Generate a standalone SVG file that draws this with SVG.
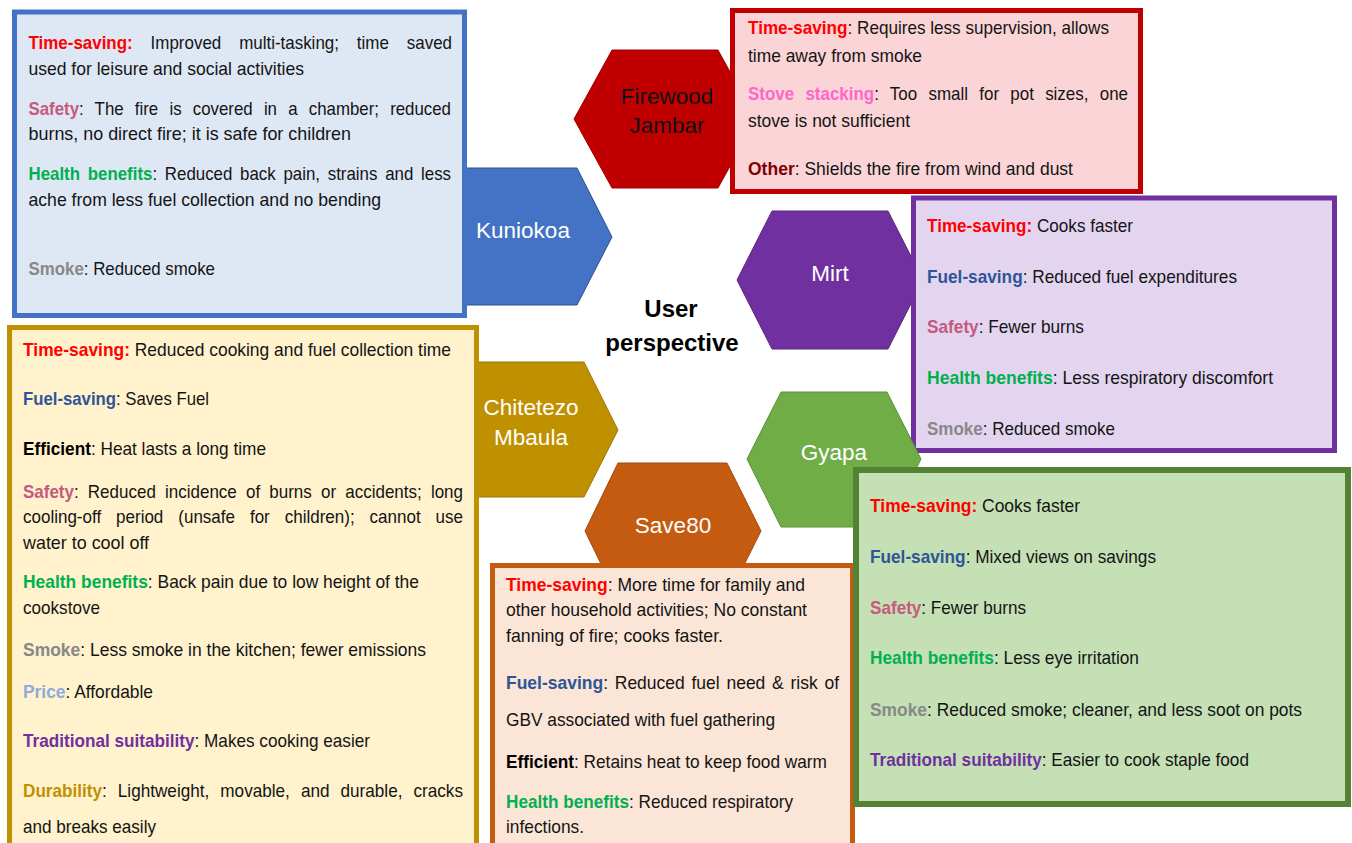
<svg xmlns="http://www.w3.org/2000/svg" width="1352" height="843" viewBox="0 0 1352 843">
  <style>
    .t { font-family: "Liberation Sans", Arial, sans-serif; font-size: 18.6px; fill: #141414; }
    .b { font-weight: bold; }
    .red { fill: #FF0000; }
    .rose { fill: #C55A7E; }
    .grn { fill: #00B050; }
    .gry { fill: #888888; }
    .blu { fill: #2F5597; }
    .blk { fill: #000000; }
    .lbl { fill: #8FAADC; }
    .pur { fill: #7030A0; }
    .gld { fill: #BF9000; }
    .pnk { fill: #FF66CC; }
    .mar { fill: #800000; }
    .hexlabel { font-family: "Liberation Sans", Arial, sans-serif; font-size: 22.5px; fill: #FFFFFF; text-anchor: middle; }
    .title { font-family: "Liberation Sans", Arial, sans-serif; font-size: 24px; font-weight: bold; fill: #000000; text-anchor: middle; }
    .box { stroke-width: 5; }
    .hex { stroke-width: 1; }
  </style>

  <rect width="1352" height="843" fill="#FFFFFF"/>

  <!-- centre title -->
  <g id="title">
    <text class="title" x="671" y="317">User</text>
    <text class="title" x="672" y="351">perspective</text>
  </g>

  <!-- Kuniokoa -->
  <g id="kuniokoa">
    <polygon class="hex" points="440,168 577,168 612,237 577,305 440,305" fill="#4472C4" stroke="#2F528F"/>
    <text class="hexlabel" x="523" y="238">Kuniokoa</text>
    <rect class="box" x="14.5" y="12" width="450" height="303.5" fill="#DEE7F4" stroke="#4472C4"/>
    <text class="t" x="28.5" y="49" textLength="423.5" lengthAdjust="spacingAndGlyphs" style="word-spacing:14.5px"><tspan class="b red">Time-saving:</tspan> Improved multi-tasking; time saved</text>
    <text class="t" x="28.5" y="75" textLength="275.5" lengthAdjust="spacingAndGlyphs">used for leisure and social activities</text>
    <text class="t" x="28.5" y="115" textLength="422.5" lengthAdjust="spacingAndGlyphs" style="word-spacing:7.2px"><tspan class="b rose">Safety</tspan>: The fire is covered in a chamber; reduced</text>
    <text class="t" x="28.5" y="140" textLength="322.5" lengthAdjust="spacingAndGlyphs">burns, no direct fire; it is safe for children</text>
    <text class="t" x="28.5" y="180" textLength="422.5" lengthAdjust="spacingAndGlyphs" style="word-spacing:3.4px"><tspan class="b grn">Health benefits</tspan>: Reduced back pain, strains and less</text>
    <text class="t" x="28.5" y="206" textLength="352.5" lengthAdjust="spacingAndGlyphs">ache from less fuel collection and no bending</text>
    <text class="t" x="28.5" y="275" textLength="186.5" lengthAdjust="spacingAndGlyphs"><tspan class="b gry">Smoke</tspan>: Reduced smoke</text>
  </g>

  <!-- Firewood Jambar -->
  <g id="firewood-jambar">
    <polygon class="hex" points="574,119 612,50 718,50 756,119 718,188 612,188" fill="#C00000" stroke="#A00000"/>
    <text class="hexlabel" x="667" y="104" style="fill:#111111">Firewood</text>
    <text class="hexlabel" x="667" y="133" style="fill:#111111">Jambar</text>
    <rect class="box" x="732.5" y="10.5" width="408" height="181" fill="#FAD4D7" stroke="#C00000"/>
    <text class="t" x="748" y="33.5" textLength="361" lengthAdjust="spacingAndGlyphs"><tspan class="b red">Time-saving</tspan>: Requires less supervision, allows</text>
    <text class="t" x="748" y="62" textLength="174" lengthAdjust="spacingAndGlyphs">time away from smoke</text>
    <text class="t" x="748" y="100" textLength="380" lengthAdjust="spacingAndGlyphs" style="word-spacing:7.2px"><tspan class="b pnk">Stove stacking</tspan>: Too small for pot sizes, one</text>
    <text class="t" x="748" y="127" textLength="162" lengthAdjust="spacingAndGlyphs">stove is not sufficient</text>
    <text class="t" x="748" y="175" textLength="325" lengthAdjust="spacingAndGlyphs"><tspan class="b mar">Other</tspan>: Shields the fire from wind and dust</text>
  </g>

  <!-- Mirt -->
  <g id="mirt">
    <polygon class="hex" points="737,280 772,211 888,211 923,280 888,349 772,349" fill="#7030A0" stroke="#5A2282"/>
    <text class="hexlabel" x="830" y="281">Mirt</text>
    <rect class="box" x="913.5" y="198" width="421" height="252.5" fill="#E3D5F0" stroke="#7030A0"/>
    <text class="t" x="927" y="232" textLength="206" lengthAdjust="spacingAndGlyphs"><tspan class="b red">Time-saving:</tspan> Cooks faster</text>
    <text class="t" x="927" y="283" textLength="310" lengthAdjust="spacingAndGlyphs"><tspan class="b blu">Fuel-saving</tspan>: Reduced fuel expenditures</text>
    <text class="t" x="927" y="333" textLength="157" lengthAdjust="spacingAndGlyphs"><tspan class="b rose">Safety</tspan>: Fewer burns</text>
    <text class="t" x="927" y="384" textLength="346" lengthAdjust="spacingAndGlyphs"><tspan class="b grn">Health benefits</tspan>: Less respiratory discomfort</text>
    <text class="t" x="927" y="435" textLength="188" lengthAdjust="spacingAndGlyphs"><tspan class="b gry">Smoke</tspan>: Reduced smoke</text>
  </g>

  <!-- Chitetezo Mbaula -->
  <g id="chitetezo-mbaula">
    <polygon class="hex" points="450,362 584,362 618,430 584,497 450,497" fill="#BF9000" stroke="#9C7600"/>
    <text class="hexlabel" x="531" y="415">Chitetezo</text>
    <text class="hexlabel" x="531" y="445">Mbaula</text>
    <rect class="box" x="9.5" y="327.5" width="467" height="530" fill="#FFF2CC" stroke="#BF9000"/>
    <text class="t" x="23" y="356" textLength="428" lengthAdjust="spacingAndGlyphs"><tspan class="b red">Time-saving:</tspan> Reduced cooking and fuel collection time</text>
    <text class="t" x="23" y="405" textLength="186" lengthAdjust="spacingAndGlyphs"><tspan class="b blu">Fuel-saving</tspan>: Saves Fuel</text>
    <text class="t" x="23" y="455" textLength="243" lengthAdjust="spacingAndGlyphs"><tspan class="b blk">Efficient</tspan>: Heat lasts a long time</text>
    <text class="t" x="23" y="498" textLength="440" lengthAdjust="spacingAndGlyphs" style="word-spacing:4.9px"><tspan class="b rose">Safety</tspan>: Reduced incidence of burns or accidents; long</text>
    <text class="t" x="23" y="523" textLength="440" lengthAdjust="spacingAndGlyphs" style="word-spacing:11.2px">cooling-off period (unsafe for children); cannot use</text>
    <text class="t" x="23" y="549" textLength="126" lengthAdjust="spacingAndGlyphs">water to cool off</text>
    <text class="t" x="23" y="588" textLength="396" lengthAdjust="spacingAndGlyphs"><tspan class="b grn">Health benefits</tspan>: Back pain due to low height of the</text>
    <text class="t" x="23" y="614" textLength="77" lengthAdjust="spacingAndGlyphs">cookstove</text>
    <text class="t" x="23" y="656" textLength="403" lengthAdjust="spacingAndGlyphs"><tspan class="b gry">Smoke</tspan>: Less smoke in the kitchen; fewer emissions</text>
    <text class="t" x="23" y="698" textLength="130" lengthAdjust="spacingAndGlyphs"><tspan class="b lbl">Price</tspan>: Affordable</text>
    <text class="t" x="23" y="747" textLength="347" lengthAdjust="spacingAndGlyphs"><tspan class="b pur">Traditional suitability</tspan>: Makes cooking easier</text>
    <text class="t" x="23" y="797" textLength="440" lengthAdjust="spacingAndGlyphs" style="word-spacing:6.8px"><tspan class="b gld">Durability</tspan>: Lightweight, movable, and durable, cracks</text>
    <text class="t" x="23" y="833" textLength="133" lengthAdjust="spacingAndGlyphs">and breaks easily</text>
  </g>

  <!-- Save80 -->
  <g id="save80">
    <polygon class="hex" points="585,531 618,463 727,463 761,531 727,599 618,599" fill="#C55A11" stroke="#A3480C"/>
    <text class="hexlabel" x="673" y="533">Save80</text>
    <rect class="box" x="492.5" y="565.5" width="360" height="300" fill="#FBE5D6" stroke="#C55A11"/>
    <text class="t" x="506" y="591" textLength="299" lengthAdjust="spacingAndGlyphs"><tspan class="b red">Time-saving</tspan>: More time for family and</text>
    <text class="t" x="506" y="616" textLength="301" lengthAdjust="spacingAndGlyphs">other household activities; No constant</text>
    <text class="t" x="506" y="642" textLength="217" lengthAdjust="spacingAndGlyphs">fanning of fire; cooks faster.</text>
    <text class="t" x="506" y="689" textLength="333" lengthAdjust="spacingAndGlyphs" style="word-spacing:2px"><tspan class="b blu">Fuel-saving</tspan>: Reduced fuel need &amp; risk of</text>
    <text class="t" x="506" y="726" textLength="269" lengthAdjust="spacingAndGlyphs">GBV associated with fuel gathering</text>
    <text class="t" x="506" y="768" textLength="321" lengthAdjust="spacingAndGlyphs"><tspan class="b blk">Efficient</tspan>: Retains heat to keep food warm</text>
    <text class="t" x="506" y="808" textLength="287" lengthAdjust="spacingAndGlyphs"><tspan class="b grn">Health benefits</tspan>: Reduced respiratory</text>
    <text class="t" x="506" y="833" textLength="78" lengthAdjust="spacingAndGlyphs">infections.</text>
  </g>

  <!-- Gyapa -->
  <g id="gyapa">
    <polygon class="hex" points="747,459 781,392 887,392 921,459 887,527 781,527" fill="#70AD47" stroke="#5B9138"/>
    <text class="hexlabel" x="834" y="460">Gyapa</text>
    <rect class="box" x="856" y="470" width="492" height="334" fill="#C5E0B4" stroke="#548235" style="stroke-width:6"/>
    <text class="t" x="870" y="512" textLength="210" lengthAdjust="spacingAndGlyphs"><tspan class="b red">Time-saving:</tspan><tspan dx="5">Cooks faster</tspan></text>
    <text class="t" x="870" y="563" textLength="286" lengthAdjust="spacingAndGlyphs"><tspan class="b blu">Fuel-saving</tspan>: Mixed views on savings</text>
    <text class="t" x="870" y="614" textLength="156" lengthAdjust="spacingAndGlyphs"><tspan class="b rose">Safety</tspan>: Fewer burns</text>
    <text class="t" x="870" y="664" textLength="269" lengthAdjust="spacingAndGlyphs"><tspan class="b grn">Health benefits</tspan>: Less eye irritation</text>
    <text class="t" x="870" y="716" textLength="432" lengthAdjust="spacingAndGlyphs"><tspan class="b gry">Smoke</tspan>: Reduced smoke; cleaner, and less soot on pots</text>
    <text class="t" x="870" y="766" textLength="379" lengthAdjust="spacingAndGlyphs"><tspan class="b pur">Traditional suitability</tspan>: Easier to cook staple food</text>
  </g>

  <!-- no connectors: nodes touch their text panels directly -->
  <g id="connectors"/>
</svg>
